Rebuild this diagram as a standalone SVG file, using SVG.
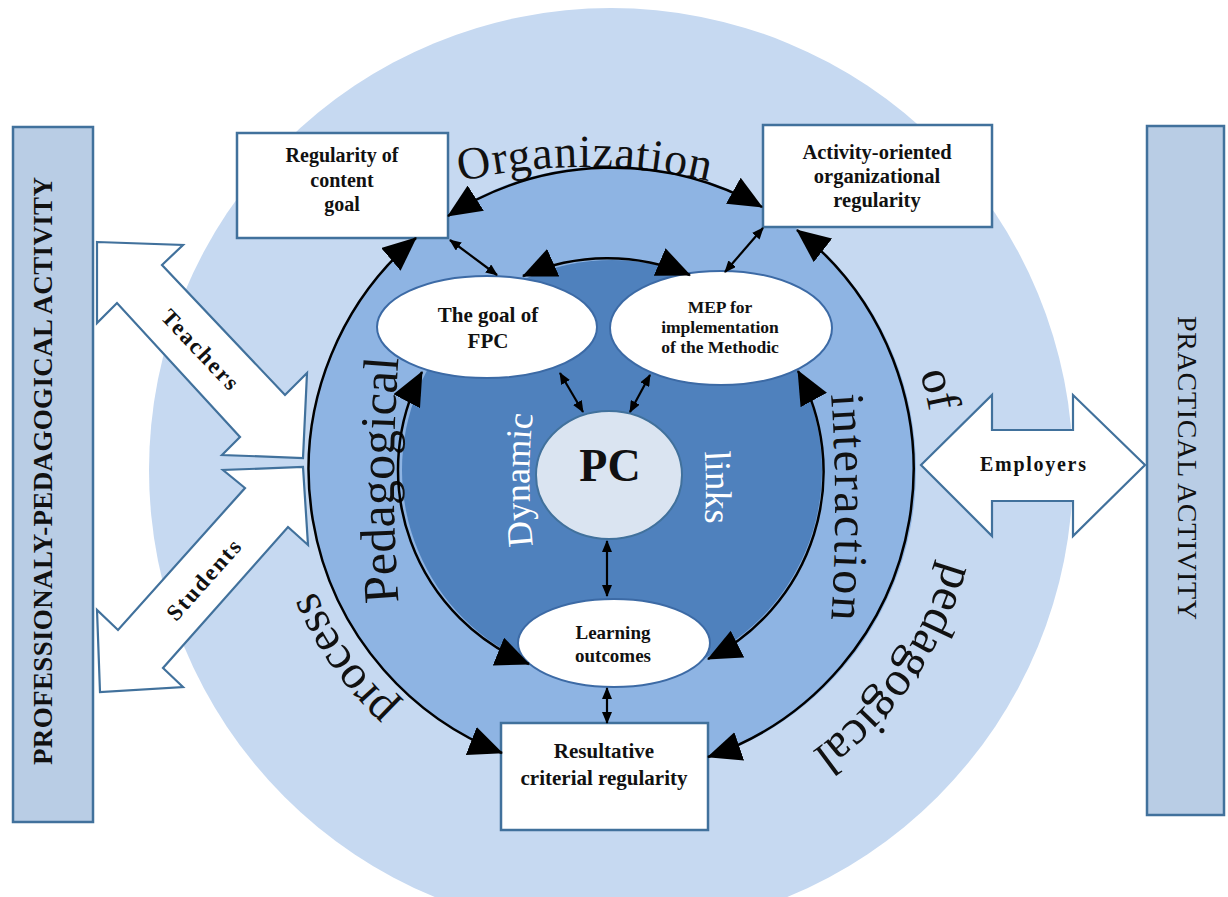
<svg xmlns="http://www.w3.org/2000/svg" width="1228" height="897" viewBox="0 0 1228 897">
<style>
.bar{fill:#B9CDE5;stroke:#41719C;stroke-width:2.5}
.box{fill:#fff;stroke:#41719C;stroke-width:2.5}
.ell{fill:#fff;stroke:#3C6AA5;stroke-width:2}
.fat{fill:#fff;stroke:#41719C;stroke-width:2.2;stroke-linejoin:miter}
.lbl{font-family:"Liberation Serif","Times New Roman",serif;font-weight:bold;fill:#111;text-anchor:middle}
.ring{font-family:"Liberation Serif","Times New Roman",serif;fill:#111;text-anchor:middle}
.wring{font-family:"Liberation Serif","Times New Roman",serif;fill:#fff;text-anchor:middle}
.arc{fill:none;stroke:#000;stroke-width:2.5}
.thin{fill:none;stroke:#000;stroke-width:2.2}
</style>
<defs>
<marker id="big" markerUnits="userSpaceOnUse" markerWidth="34" markerHeight="30" refX="33" refY="15" orient="auto-start-reverse"><path d="M0,0 L34,15 L0,30 Z" fill="#000"/></marker>
<marker id="sm" markerUnits="userSpaceOnUse" markerWidth="12" markerHeight="10" refX="11" refY="5" orient="auto-start-reverse"><path d="M0,0 L12,5 L0,10 Z" fill="#000"/></marker>
<path id="tp-org" d="M422,192 A544,544 0 0,1 748,192"/>
<path id="tp-ped" d="M401,630 A1600,1600 0 0,1 401,330"/>
<path id="tp-int" d="M829,368 A1600,1600 0 0,1 829,648"/>
<path id="tp-dyn" d="M534,555 A600,600 0 0,1 534,405"/>
<path id="tp-lnk" d="M704,440 A600,600 0 0,1 704,535"/>
<path id="tp-of" d="M907,339 A323,323 0 0,1 934,448"/>
<path id="tp-pedb" d="M956,500 A345,345 0 0,1 758,783"/>
<path id="tp-proc" d="M477,760 A320,320 0 0,1 293,498"/>
</defs>
<rect width="1228" height="897" fill="#fff"/>
<g id="rings">
<circle cx="611" cy="470" r="462" fill="#C6D9F1"/>
<circle cx="612" cy="470" r="304" fill="#8EB4E3"/>
<circle cx="612" cy="470" r="210" fill="#4F81BD"/>
<text class="ring" font-size="46" letter-spacing="1"><textPath href="#tp-org" startOffset="50%">Organization</textPath></text>
<text class="ring" font-size="50"><textPath href="#tp-ped" startOffset="50%">Pedagogical</textPath></text>
<text class="ring" font-size="48" letter-spacing="2"><textPath href="#tp-int" startOffset="50%">interaction</textPath></text>
<text class="ring" font-size="48"><textPath href="#tp-of" startOffset="50%">of</textPath></text>
<text class="ring" font-size="49"><textPath href="#tp-pedb" startOffset="50%">pedagogical</textPath></text>
<text class="ring" font-size="48"><textPath href="#tp-proc" startOffset="50%">process</textPath></text>
<text class="wring" font-size="36"><textPath href="#tp-dyn" startOffset="50%">Dynamic</textPath></text>
<text class="wring" font-size="37"><textPath href="#tp-lnk" startOffset="50%">links</textPath></text>
</g>
<g id="professional-activity">
<rect class="bar" x="13" y="127" width="80" height="695"/>
<text class="lbl" font-size="27" textLength="588" transform="translate(52,471) rotate(-90)">PROFESSIONALY-PEDAGOGICAL ACTIVITY</text>
</g>
<g id="practical-activity">
<rect class="bar" x="1147" y="126" width="77" height="689"/>
<text class="lbl" font-size="28" style="font-weight:normal" textLength="304" transform="translate(1178,468) rotate(90)">PRACTICAL ACTIVITY</text>
</g>
<g id="teachers">
<polygon class="fat" points="97,242 183,245 162,265 285,395 307,373 303,458 222,455 240,437 117,303 97,323"/>
<text class="lbl" font-size="23" letter-spacing="2" transform="translate(201,350) rotate(46.6)" y="8">Teachers</text>
</g>
<g id="students">
<polygon class="fat" points="303,467 308,545 288,527 163,668 183,687 100,692 97,610 118,630 245,488 223,470"/>
<text class="lbl" font-size="23" letter-spacing="2" transform="translate(204,579) rotate(-48.4)" y="8">Students</text>
</g>
<g id="employers">
<polygon class="fat" points="921,465 992,395 992,430 1073,430 1073,395 1145,465 1073,536 1073,501 992,501 992,536"/>
<text class="lbl" font-size="20" textLength="106" x="1033" y="471">Employers</text>
</g>
<g id="regularity-content">
<rect class="box" x="237" y="133" width="211" height="105"/>
<text class="lbl" font-size="20" x="342" y="162">Regularity of</text>
<text class="lbl" font-size="20" x="342" y="187">content</text>
<text class="lbl" font-size="20" x="342" y="211">goal</text>
</g>
<g id="activity-oriented">
<rect class="box" x="763" y="125" width="229" height="102"/>
<text class="lbl" font-size="20.5" x="877" y="159">Activity-oriented</text>
<text class="lbl" font-size="20.5" x="877" y="183">organizational</text>
<text class="lbl" font-size="20.5" x="877" y="207">regularity</text>
</g>
<g id="resultative">
<rect class="box" x="501" y="723" width="207" height="107"/>
<text class="lbl" font-size="21" x="604" y="758">Resultative</text>
<text class="lbl" font-size="21" x="604" y="785">criterial regularity</text>
</g>
<g id="goal-fpc">
<ellipse class="ell" cx="487" cy="327" rx="110" ry="51"/>
<text class="lbl" font-size="21" x="488" y="322">The goal of</text>
<text class="lbl" font-size="21" x="488" y="348">FPC</text>
</g>
<g id="mep">
<ellipse class="ell" cx="721" cy="328" rx="111" ry="57"/>
<text class="lbl" font-size="17.5" x="720" y="313" fill="#222">MEP for</text>
<text class="lbl" font-size="17.5" x="720" y="333" fill="#222">implementation</text>
<text class="lbl" font-size="17.5" x="720" y="353" fill="#222">of the Methodic</text>
</g>
<g id="pc">
<ellipse cx="609" cy="475" rx="73" ry="64" fill="#DAE4F1" stroke="#41719C" stroke-width="2"/>
<text class="lbl" font-size="46" x="610" y="481">PC</text>
</g>
<g id="learning-outcomes">
<ellipse class="ell" cx="614" cy="643" rx="96" ry="44"/>
<text class="lbl" font-size="19" x="613" y="639">Learning</text>
<text class="lbl" font-size="19" x="613" y="662">outcomes</text>
</g>
<g id="connectors">
<path class="arc" d="M448,216 A304,304 0 0,1 762,207" marker-start="url(#big)" marker-end="url(#big)"/>
<path class="arc" d="M416,238 A304,304 0 0,0 502,753" marker-start="url(#big)" marker-end="url(#big)"/>
<path class="arc" d="M797,230 A304,304 0 0,1 708,757" marker-start="url(#big)" marker-end="url(#big)"/>
<path class="arc" d="M523,276 A210,210 0 0,1 690,275" marker-start="url(#big)" marker-end="url(#big)"/>
<path class="arc" d="M422,372 A210,210 0 0,0 529,664" marker-start="url(#big)" marker-end="url(#big)"/>
<path class="arc" d="M798,371 A210,210 0 0,1 708,659" marker-start="url(#big)" marker-end="url(#big)"/>
<path class="thin" d="M450,240 L497,275" marker-start="url(#sm)" marker-end="url(#sm)"/>
<path class="thin" d="M763,228 L725,272" marker-start="url(#sm)" marker-end="url(#sm)"/>
<path class="thin" d="M560,373 L583,412" marker-start="url(#sm)" marker-end="url(#sm)"/>
<path class="thin" d="M650,375 L630,412" marker-start="url(#sm)" marker-end="url(#sm)"/>
<path class="thin" d="M607,541 L607,596" marker-start="url(#sm)" marker-end="url(#sm)"/>
<path class="thin" d="M607,688 L607,723" marker-start="url(#sm)" marker-end="url(#sm)"/>
</g>
</svg>
